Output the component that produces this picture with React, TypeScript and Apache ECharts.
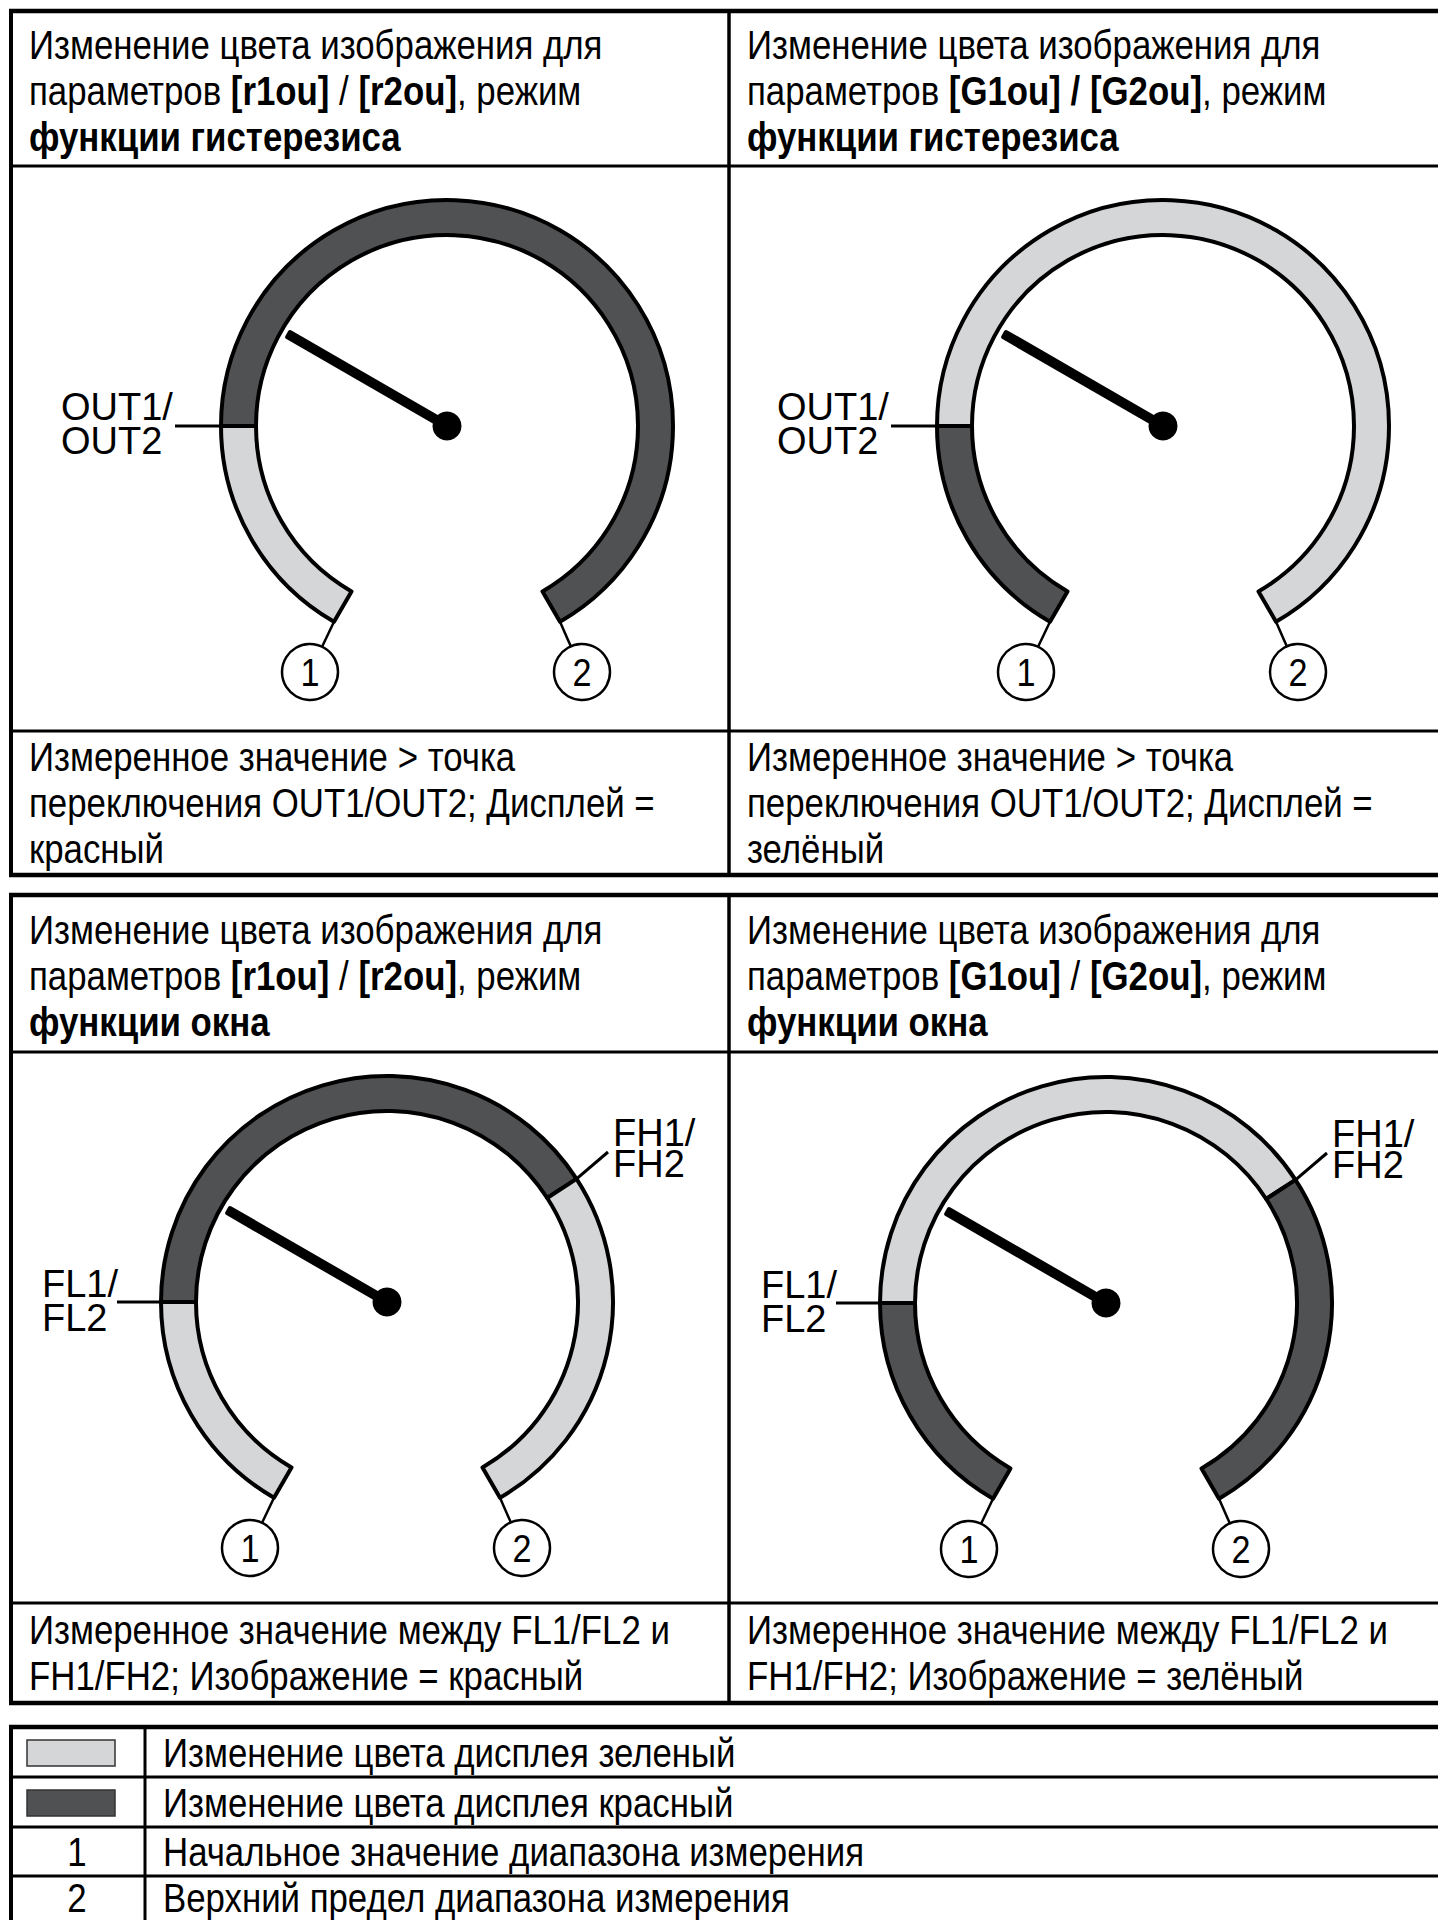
import React, { useEffect, useRef } from 'react';
import * as echarts from 'echarts';

const FONT = '"Liberation Sans", Arial, Helvetica, sans-serif';
const TFS = 40; // table text size (drawn condensed)
const TSX = 0.87; // horizontal condensing of table text
const LFS = 38; // dial label size
const RED_SHADE = '#505153';
const GREEN_SHADE = '#d5d6d8';

// measuring range of every dial: value 0 at (1), value 100 at (2)
const rangeMin = 0;
const rangeMax = 100;
const dialStartAngle = 240;
const dialEndAngle = -60;

const switchPointOUT = 20; // OUT1/OUT2
const windowLow = 20; // FL1/FL2
const windowHigh = 69; // FH1/FH2
const measuredValues = [30, 30, 30, 30];

const dialBreaks = [[switchPointOUT], [switchPointOUT], [windowLow, windowHigh], [windowLow, windowHigh]];
const dialColours = [
  ['green', 'red'],
  ['red', 'green'],
  ['green', 'red', 'green'],
  ['red', 'green', 'red'],
];
const dialKinds = ['hyst', 'hyst', 'window', 'window'];

const headerLines = [
  ['Изменение цвета изображения для', 'параметров {b|[r1ou]} / {b|[r2ou]}, режим', '{b|функции гистерезиса}'],
  ['Изменение цвета изображения для', 'параметров {b|[G1ou] / [G2ou]}, режим', '{b|функции гистерезиса}'],
  ['Изменение цвета изображения для', 'параметров {b|[r1ou]} / {b|[r2ou]}, режим', '{b|функции окна}'],
  ['Изменение цвета изображения для', 'параметров {b|[G1ou]} / {b|[G2ou]}, режим', '{b|функции окна}'],
];
const descLines = [
  ['Измеренное значение > точка', 'переключения OUT1/OUT2; Дисплей =', 'красный'],
  ['Измеренное значение > точка', 'переключения OUT1/OUT2; Дисплей =', 'зелёный'],
  ['Измеренное значение между FL1/FL2 и', 'FH1/FH2; Изображение = красный'],
  ['Измеренное значение между FL1/FL2 и', 'FH1/FH2; Изображение = зелёный'],
];
const legendKeys = ['green', 'red', '1', '2'];
const legendTexts = [
  'Изменение цвета дисплея зеленый',
  'Изменение цвета дисплея красный',
  'Начальное значение диапазона измерения',
  'Верхний предел диапазона измерения',
];

// layout
const dialCentres = [[447, 426], [1163, 426], [387, 1302], [1106, 1303]];
const R_IN = 191;
const R_OUT = 226;
const colX = [29, 747];
const headerTop = [45, 45, 930, 930];
const descTop = [757, 757, 1630, 1630];
const STEP = 46;
const legendTextY = [1753, 1803, 1852, 1898];

const shade = (k: string) => (k === 'red' ? RED_SHADE : GREEN_SHADE);
const toAngle = (v: number) => dialStartAngle + ((dialEndAngle - dialStartAngle) * (v - rangeMin)) / (rangeMax - rangeMin);
const pt = (c: number[], r: number, deg: number) => [c[0] + r * Math.cos((deg * Math.PI) / 180), c[1] - r * Math.sin((deg * Math.PI) / 180)];

function buildOption() {
  const g: any[] = [];
  const line = (x1: number, y1: number, x2: number, y2: number, w: number, z = 5) =>
    g.push({ type: 'line', shape: { x1, y1, x2, y2 }, style: { stroke: '#000', lineWidth: w }, silent: true, z });
  const text = (x: number, y: number, t: string, opts: any = {}) => {
    const align = opts.align || 'left';
    const fs = opts.fontSize || TFS;
    const lh = opts.lineHeight || 40;
    g.push({
      type: 'text',
      x,
      y,
      scaleX: opts.scaleX == null ? TSX : opts.scaleX,
      silent: true,
      z: 20,
      style: {
        text: t,
        fontFamily: FONT,
        fontSize: fs,
        fill: '#000',
        align,
        verticalAlign: 'middle',
        textAlign: align,
        textVerticalAlign: 'middle',
        lineHeight: lh,
        rich: { b: { fontFamily: FONT, fontSize: fs, fontWeight: 'bold', fill: '#000', lineHeight: lh } },
      },
    });
  };

  // tables
  const L = 11;
  const RR = 1450;
  const MID = 729;
  const t1 = [11, 166, 731, 875];
  const t2 = [895, 1052, 1603, 1703];
  [t1, t2].forEach((t) => {
    t.forEach((y, i) => line(L - 2, y, RR, y, i === 0 || i === 3 ? 4.5 : 3));
    line(L, t[0], L, t[3], 4);
    line(MID, t[0], MID, t[3], 3.5);
  });
  const lg = [1727, 1777, 1827, 1876, 1926];
  lg.forEach((y, i) => line(L - 2, y, RR, y, i === 0 ? 4.5 : 3));
  line(L, lg[0], L, lg[4], 4);
  line(145, lg[0], 145, lg[4], 3);

  // cell texts
  headerLines.forEach((ls, i) => ls.forEach((s, j) => text(colX[i % 2], headerTop[i] + j * STEP, s)));
  descLines.forEach((ls, i) => ls.forEach((s, j) => text(colX[i % 2], descTop[i] + j * STEP, s)));

  // legend
  legendKeys.forEach((k, i) => {
    const cy = legendTextY[i];
    if (k === 'green' || k === 'red') {
      g.push({ type: 'rect', shape: { x: 27, y: cy - 13, width: 88, height: 26 }, style: { fill: shade(k), stroke: '#333', lineWidth: 1.5 }, silent: true, z: 6 });
    } else {
      text(77, cy, k, { align: 'center', lineHeight: 38 });
    }
    text(163, cy, legendTexts[i], { lineHeight: 38 });
  });

  const series: any[] = [];
  dialCentres.forEach((c, i) => {
    const bounds = [rangeMin, ...dialBreaks[i], rangeMax];
    series.push({
      type: 'pie',
      center: c,
      radius: [R_IN, R_OUT],
      startAngle: dialStartAngle,
      endAngle: dialEndAngle,
      clockwise: true,
      silent: true,
      avoidLabelOverlap: false,
      label: { show: false },
      labelLine: { show: false },
      emphasis: { disabled: true },
      itemStyle: { borderColor: '#000', borderWidth: 4 },
      data: dialColours[i].map((k, j) => ({ value: bounds[j + 1] - bounds[j], itemStyle: { color: shade(k) } })),
    });
    series.push({
      type: 'gauge',
      center: c,
      radius: 208,
      startAngle: dialStartAngle,
      endAngle: dialEndAngle,
      min: rangeMin,
      max: rangeMax,
      silent: true,
      axisLine: { show: false },
      splitLine: { show: false },
      axisTick: { show: false },
      axisLabel: { show: false },
      progress: { show: false },
      title: { show: false },
      detail: { show: false },
      pointer: { show: true, icon: 'roundRect', length: 185, width: 10, offsetCenter: [0, 0], itemStyle: { color: '#000' } },
      anchor: { show: true, showAbove: true, size: 29, icon: 'circle', itemStyle: { color: '#000' } },
      data: [{ value: measuredValues[i] }],
    });

    const lab = { fontSize: LFS, scaleX: 1, lineHeight: 34 };
    // labels of the switch points
    if (dialKinds[i] === 'hyst') {
      const p = pt(c, R_OUT, toAngle(switchPointOUT));
      line(c[0] - 272, p[1], p[0], p[1], 3, 10);
      text(c[0] - 386, c[1] - 2, 'OUT1/\nOUT2', lab);
    } else {
      const p = pt(c, R_OUT, toAngle(windowLow));
      line(c[0] - 270, p[1], p[0], p[1], 3, 10);
      text(c[0] - 345, c[1] - 1, 'FL1/\nFL2', lab);
      const q = pt(c, R_OUT, toAngle(windowHigh));
      line(q[0], q[1], c[0] + 221, c[1] - 150, 3, 10);
      text(c[0] + 226, c[1] - 154, 'FH1/\nFH2', { ...lab, lineHeight: 31 });
    }

    // callouts 1 and 2 at the ends of the range
    [
      [rangeMin, -137, '1'],
      [rangeMax, 135, '2'],
    ].forEach(([v, dx, label]: any) => {
      const e = pt(c, R_OUT, toAngle(v));
      const cc = [c[0] + dx, c[1] + 246];
      const r = 28;
      const vx = e[0] - cc[0];
      const vy = e[1] - cc[1];
      const len = Math.hypot(vx, vy);
      line(e[0], e[1], cc[0] + (vx / len) * r, cc[1] + (vy / len) * r, 2.5, 10);
      g.push({ type: 'circle', shape: { cx: cc[0], cy: cc[1], r }, style: { fill: '#fff', stroke: '#000', lineWidth: 2.5 }, silent: true, z: 11 });
      text(cc[0], cc[1] + 1, label, { align: 'center', fontSize: LFS, scaleX: 0.9 });
    });
  });

  return { animation: false, backgroundColor: '#fff', series, graphic: { elements: g } };
}

export default function App() {
  const ref = useRef<HTMLDivElement>(null);
  useEffect(() => {
    document.body.style.margin = '0';
    document.body.style.overflow = 'hidden';
    const chart = echarts.init(ref.current!, undefined, { renderer: 'svg' });
    chart.setOption(buildOption() as any);
    return () => chart.dispose();
  }, []);
  return <div ref={ref} style={{ width: 1438, height: 1920 }} />;
}
